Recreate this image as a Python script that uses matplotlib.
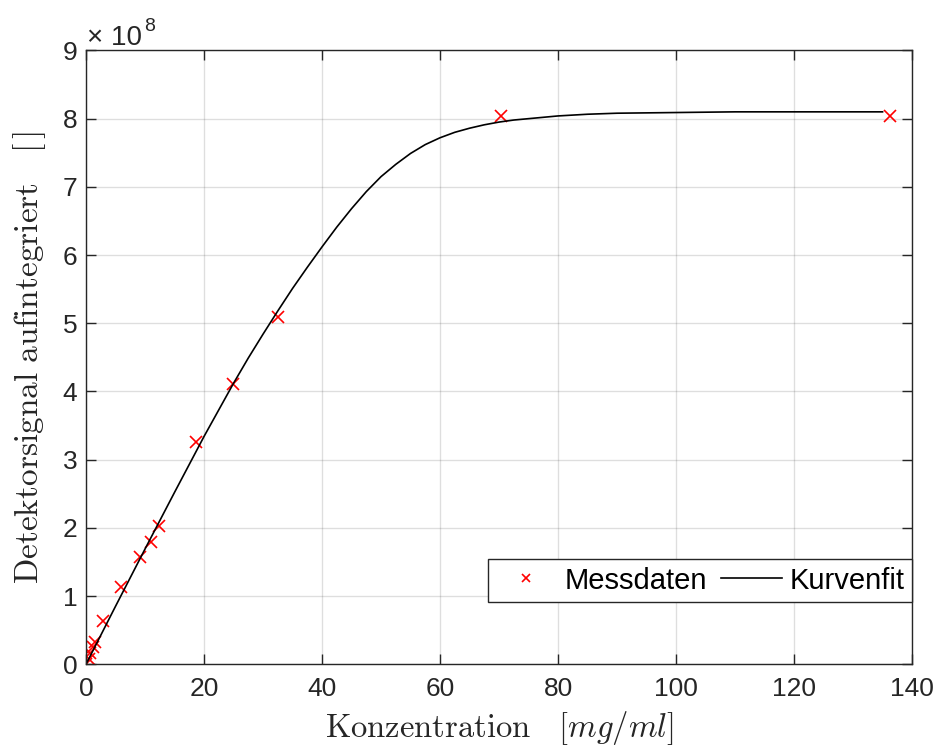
import numpy as np
import matplotlib
matplotlib.use("Agg")
import matplotlib.pyplot as plt
from matplotlib.ticker import ScalarFormatter

plt.rcParams['font.family'] = ['Liberation Sans', 'DejaVu Sans']
plt.rcParams['mathtext.fontset'] = 'custom'
plt.rcParams['mathtext.rm'] = 'Liberation Sans'
plt.rcParams['mathtext.it'] = 'Liberation Sans:italic'

# Messdaten (Konzentration in mg/ml, Signal in 1e8)
konz = [0.0, 0.5, 0.7, 1.1, 1.5, 2.8, 6.0, 9.2, 11.0, 12.4, 18.6, 24.9, 32.6, 70.3, 136.2]
signal = [0.0, 0.07, 0.17, 0.25, 0.33, 0.64, 1.14, 1.58, 1.79, 2.02, 3.26, 4.11, 5.09, 8.04, 8.04]

# Kurvenfit
fit_x = [0, 5, 10, 15, 20, 25, 27.5, 30, 32.5, 35, 37.5, 40, 42.5, 45, 47.5, 50, 52.5, 55,
         57.5, 60, 62.5, 65, 67.5, 70, 72.5, 75, 77.5, 80, 85, 90, 100, 110, 135]
fit_y = [0.0, 0.85, 1.69, 2.52, 3.34, 4.12, 4.49, 4.84, 5.18, 5.51, 5.82, 6.12, 6.41, 6.68,
         6.93, 7.15, 7.33, 7.49, 7.62, 7.72, 7.80, 7.86, 7.91, 7.95, 7.98, 8.00, 8.02, 8.04,
         8.065, 8.08, 8.09, 8.10, 8.10]

dark = (0.15, 0.15, 0.15)

fig = plt.figure(figsize=(9.39, 7.51), dpi=100)
ax = fig.add_axes([0.0916, 0.1155, 0.8797, 0.8173])

ax.plot(np.array(konz), np.array(signal) * 1e8, 'x', color='red', markersize=8.5,
        markeredgewidth=1.2, label='Messdaten')
ax.plot(np.array(fit_x), np.array(fit_y) * 1e8, '-', color='black', linewidth=1.2,
        label='Kurvenfit')

ax.set_xlim(0, 140)
ax.set_ylim(0, 9e8)
ax.set_xticks(np.arange(0, 141, 20))
ax.set_yticks(np.arange(0, 9.01e8, 1e8))

fmt = ScalarFormatter(useMathText=True)
fmt.set_powerlimits((0, 0))
ax.yaxis.set_major_formatter(fmt)
ax.yaxis.get_offset_text().set_visible(False)
# Exponent von Hand, wie in MATLAB
ax.annotate('× 10', xy=(0.0, 1.0), xycoords='axes fraction', xytext=(1, 4),
            textcoords='offset points', fontsize=20, color=dark, ha='left', va='baseline')
ax.annotate('8', xy=(0.0, 1.0), xycoords='axes fraction', xytext=(42, 14),
            textcoords='offset points', fontsize=14, color=dark, ha='left', va='baseline')

ax.grid(True, color=dark, alpha=0.15, linewidth=1)
ax.tick_params(direction='in', length=7, width=1, colors=dark, labelsize=19,
               top=True, right=True)
ax.tick_params(axis='x', pad=9)
ax.tick_params(axis='y', pad=6)
for s in ax.spines.values():
    s.set_color(dark)
    s.set_linewidth(1)

ax.set_xlabel(r'$\mathrm{Konzentration}\quad[mg/ml]$', fontsize=23.5, color=dark,
              math_fontfamily='cm', labelpad=6)
ax.set_ylabel(r'$\mathrm{Detektorsignal\ aufintegriert}\quad[\,]$', fontsize=24, color=dark,
              math_fontfamily='cm', labelpad=10)

leg = ax.legend(loc='lower right', ncol=2, fontsize=21, frameon=True, fancybox=False,
                edgecolor=dark, borderaxespad=0.0, bbox_to_anchor=(1.0, 0.1015),
                borderpad=0.25, handlelength=2.1, columnspacing=0.5, handletextpad=0.25,
                markerscale=0.7, framealpha=1)
leg.get_frame().set_linewidth(1)

fig.savefig('out.png', dpi=100)
